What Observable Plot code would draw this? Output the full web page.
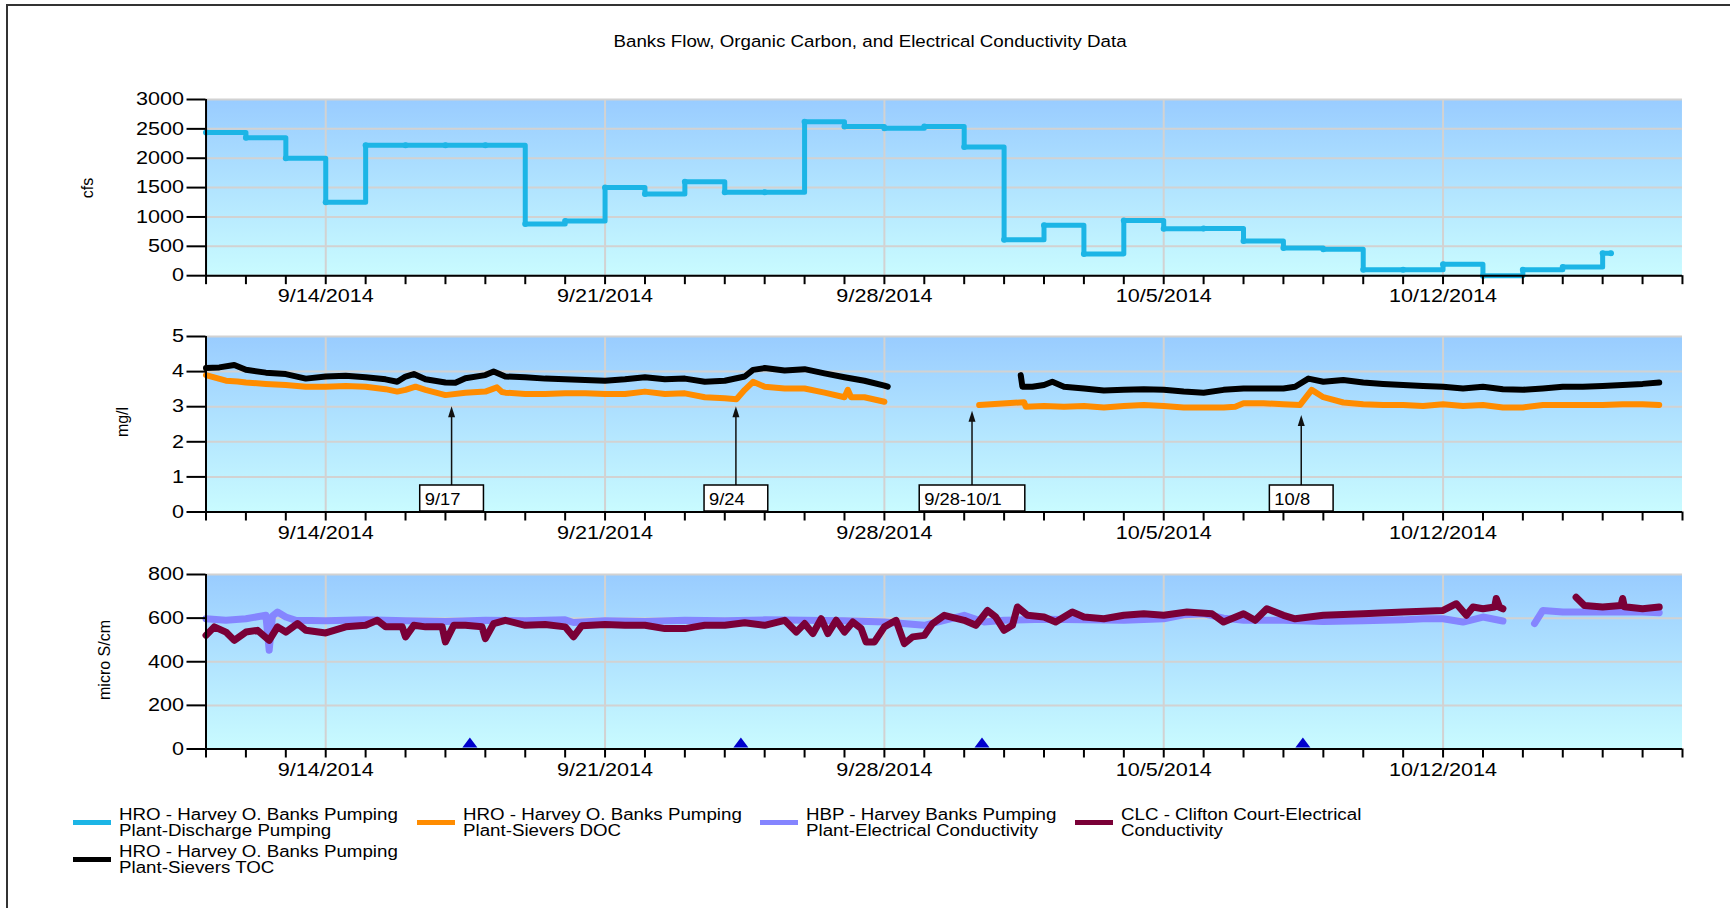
<!DOCTYPE html>
<html><head><meta charset="utf-8">
<script src="https://cdn.jsdelivr.net/npm/d3@7"></script>
<script src="https://cdn.jsdelivr.net/npm/@observablehq/plot@0.6"></script>
<style>
body{margin:0;background:#fff;font-family:"Liberation Sans",Arial,sans-serif;color:#000;}
#page{position:relative;width:1730px;height:908px;overflow:hidden;background:#fff;}
#frame{position:absolute;left:6px;top:4px;width:1800px;height:1000px;border-left:2px solid #333;border-top:2px solid #333;}
.panel{position:absolute;left:0;}
.title{position:absolute;left:0;width:1740px;top:31px;line-height:20px;text-align:center;font-size:16.3px;}
.title span{display:inline-block;transform:scaleX(1.15);}
.ylab{position:absolute;font-size:16px;white-space:nowrap;transform:translate(-50%,-50%) rotate(-90deg);}
.li{position:absolute;display:flex;align-items:center;}
.sw{width:38px;height:5px;margin-right:8px;flex:none;}
.lt{font-size:16px;line-height:16px;white-space:nowrap;transform:scaleX(1.17);transform-origin:left center;}
</style></head>
<body><div id="page"><div id="frame"></div></div>
<script>
// ---------- data ----------
const xStart = "09-11T00", xEnd = "10-18T00";
const weekLabelDates = ["09-14T00","09-21T00","09-28T00","10-05T00","10-12T00"];
const weekLabels = ["9/14/2014","9/21/2014","9/28/2014","10/5/2014","10/12/2014"];

const flowTimes = ["09-11T00","09-12T00","09-13T00","09-14T00","09-15T00","09-16T00","09-17T00","09-18T00","09-19T00","09-20T00","09-21T00","09-22T00","09-23T00","09-24T00","09-25T00","09-26T00","09-27T00","09-28T00","09-29T00","09-30T00","10-01T00","10-02T00","10-03T00","10-04T00","10-05T00","10-06T00","10-07T00","10-08T00","10-09T00","10-10T00","10-11T00","10-12T00","10-13T00","10-14T00","10-15T00","10-16T00","10-16T05"];
const flowValues = [2440,2350,2000,1250,2220,2220,2220,2220,880,930,1500,1390,1600,1420,1420,2620,2540,2510,2540,2190,610,860,370,940,800,805,590,470,450,100,100,195,0,100,150,380,380];

const tocTimes = ["09-11T00","09-11T08","09-11T17","09-12T00","09-12T12","09-13T00","09-13T12","09-14T00","09-14T12","09-15T00","09-15T12","09-15T19","09-16T00","09-16T05","09-16T12","09-17T00","09-17T06","09-17T12","09-18T00","09-18T05","09-18T12","09-19T00","09-19T12","09-20T00","09-20T12","09-21T00","09-21T12","09-22T00","09-22T12","09-23T00","09-23T12","09-24T00","09-24T12","09-24T17","09-25T00","09-25T12","09-26T00","09-26T12","09-27T00","09-27T12","09-28T00","09-28T02","09-29T12","10-01T10","10-01T11","10-01T17","10-02T00","10-02T05","10-02T12","10-03T00","10-03T12","10-04T00","10-04T12","10-05T00","10-05T12","10-06T00","10-06T12","10-07T00","10-07T12","10-08T00","10-08T07","10-08T15","10-09T00","10-09T12","10-10T00","10-10T12","10-11T00","10-11T12","10-12T00","10-12T12","10-13T00","10-13T12","10-14T00","10-14T12","10-15T00","10-15T12","10-16T00","10-16T12","10-17T00","10-17T10"];
const tocValues = [4.10,4.12,4.19,4.05,3.97,3.93,3.80,3.86,3.88,3.84,3.78,3.71,3.86,3.93,3.78,3.69,3.68,3.81,3.90,4.00,3.86,3.84,3.80,3.78,3.76,3.74,3.78,3.84,3.78,3.80,3.71,3.74,3.86,4.05,4.10,4.03,4.07,3.95,3.84,3.74,3.60,3.57,null,3.90,3.57,3.57,3.62,3.71,3.57,3.52,3.46,3.48,3.50,3.48,3.43,3.40,3.48,3.52,3.52,3.52,3.57,3.80,3.71,3.76,3.69,3.65,3.62,3.59,3.57,3.52,3.57,3.50,3.48,3.52,3.57,3.57,3.59,3.62,3.65,3.69];

const docTimes = ["09-11T00","09-11T12","09-11T19","09-12T00","09-12T12","09-13T00","09-13T12","09-14T00","09-14T12","09-15T00","09-15T12","09-15T19","09-16T00","09-16T06","09-16T12","09-17T00","09-17T12","09-18T00","09-18T07","09-18T10","09-18T12","09-19T00","09-19T12","09-20T00","09-20T12","09-21T00","09-21T12","09-22T00","09-22T12","09-23T00","09-23T12","09-24T00","09-24T07","09-24T12","09-24T17","09-25T00","09-25T12","09-26T00","09-26T12","09-27T00","09-27T02","09-27T04","09-27T12","09-28T00","09-29T00","09-30T09","10-01T12","10-01T13","10-02T00","10-02T12","10-03T00","10-03T12","10-04T00","10-04T12","10-05T00","10-05T12","10-06T00","10-06T12","10-06T19","10-07T00","10-07T12","10-08T00","10-08T10","10-08T17","10-09T00","10-09T12","10-10T00","10-10T12","10-11T00","10-11T12","10-12T00","10-12T12","10-13T00","10-13T12","10-14T00","10-14T12","10-15T00","10-15T12","10-16T00","10-16T12","10-17T00","10-17T10"];
const docValues = [3.90,3.74,3.72,3.69,3.65,3.62,3.57,3.57,3.59,3.57,3.50,3.43,3.48,3.57,3.48,3.33,3.40,3.43,3.55,3.42,3.40,3.36,3.36,3.38,3.38,3.36,3.36,3.43,3.36,3.38,3.27,3.24,3.21,3.48,3.71,3.57,3.52,3.52,3.40,3.27,3.48,3.27,3.27,3.14,null,3.05,3.13,3.00,3.02,3.00,3.02,2.98,3.02,3.05,3.02,2.98,2.98,2.98,3.00,3.10,3.10,3.07,3.05,3.48,3.27,3.12,3.07,3.05,3.05,3.02,3.07,3.02,3.05,2.98,2.98,3.05,3.05,3.05,3.05,3.07,3.07,3.05];

const hbpTimes = ["09-11T00","09-11T12","09-12T00","09-12T12","09-12T14","09-12T16","09-12T19","09-13T00","09-13T06","09-14T00","09-15T00","09-16T00","09-17T00","09-18T00","09-19T00","09-20T00","09-20T05","09-21T00","09-22T00","09-23T00","09-24T00","09-25T00","09-26T00","09-27T00","09-28T00","09-29T00","09-30T00","09-30T12","10-01T00","10-02T00","10-03T00","10-04T00","10-05T00","10-05T12","10-06T00","10-06T12","10-07T00","10-08T00","10-09T00","10-10T00","10-11T00","10-11T12","10-12T00","10-12T12","10-13T00","10-13T12","10-14T00","10-14T07","10-14T12","10-15T00","10-16T00","10-17T00","10-17T10"];
const hbpValues = [597,590,597,613,453,610,628,605,590,588,592,588,585,590,588,592,580,588,585,590,588,592,590,588,582,567,613,582,590,595,592,590,597,615,620,600,590,590,585,588,592,597,597,582,605,587,null,575,635,628,628,628,625];

const clcTimes = ["09-11T00","09-11T05","09-11T12","09-11T17","09-12T00","09-12T07","09-12T14","09-12T19","09-13T00","09-13T07","09-13T12","09-14T00","09-14T12","09-15T00","09-15T07","09-15T12","09-15T22","09-16T00","09-16T05","09-16T12","09-16T22","09-17T00","09-17T05","09-17T12","09-17T22","09-18T00","09-18T05","09-18T12","09-19T00","09-19T12","09-20T00","09-20T05","09-20T10","09-21T00","09-21T12","09-22T00","09-22T12","09-23T00","09-23T12","09-24T00","09-24T12","09-25T00","09-25T12","09-25T19","09-26T00","09-26T05","09-26T10","09-26T14","09-26T19","09-27T00","09-27T05","09-27T10","09-27T13","09-27T18","09-28T00","09-28T07","09-28T12","09-28T17","09-29T00","09-29T05","09-29T12","09-30T00","09-30T07","09-30T14","09-30T19","10-01T00","10-01T05","10-01T08","10-01T14","10-02T00","10-02T07","10-02T12","10-02T17","10-03T00","10-03T12","10-04T00","10-04T12","10-05T00","10-05T14","10-06T05","10-06T12","10-07T00","10-07T07","10-07T14","10-08T00","10-08T07","10-09T00","10-10T00","10-11T00","10-12T00","10-12T08","10-12T14","10-12T18","10-13T00","10-13T07","10-13T08","10-13T10","10-13T12","10-14T12","10-15T08","10-15T13","10-16T00","10-16T11","10-16T12","10-16T13","10-17T00","10-17T10"];
const clcValues = [521,560,536,498,536,544,498,560,536,575,544,532,560,567,590,560,560,514,567,560,560,491,567,567,560,506,575,590,567,571,560,514,565,571,567,567,552,552,567,567,579,567,590,536,575,529,597,529,590,536,582,552,491,491,560,590,483,514,521,575,613,590,567,635,605,544,567,651,613,605,582,605,628,605,597,613,620,613,628,620,582,620,590,643,613,597,613,620,628,635,666,613,651,643,651,690,650,643,null,696,658,651,658,690,652,643,651];

const annDates = ["09-17T04","09-24T07","09-30T05","10-08T11"];
const annLabels = ["9/17","9/24","9/28-10/1","10/8"];
const annTips = [3.0, 3.0, 2.87, 2.75];
const markerDates = ["09-17T15","09-24T10","09-30T11","10-08T12"];

const flowTicks = [0,500,1000,1500,2000,2500,3000];
const carbonTicks = [0,1,2,3,4,5];
const ecTicks = [0,200,400,600,800];

const legendItems = [
  ["HRO - Harvey O. Banks Pumping","Plant-Discharge Pumping","#1cb5e6"],
  ["HRO - Harvey O. Banks Pumping","Plant-Sievers DOC","#ff8c00"],
  ["HBP - Harvey Banks Pumping","Plant-Electrical Conductivity","#8585ff"],
  ["CLC - Clifton Court-Electrical","Conductivity","#7a0037"],
  ["HRO - Harvey O. Banks Pumping","Plant-Sievers TOC","#000000"]
];

// ---------- helpers ----------
const T = s => new Date(`2014-${s}:00Z`);
const series = (times, values) => times.map((t, i) => ({t: T(t), v: values[i] == null ? NaN : values[i]}));
const x0 = T(xStart), x1 = T(xEnd);
const dayTicks = d3.utcDay.range(x0, d3.utcDay.offset(x1, 1));
const weekDates = weekLabelDates.map(T);
const labelMap = new Map(weekDates.map((d, i) => [+d, weekLabels[i]]));
const TS = 1.2; // horizontal stretch of tick text

function bg(id) {
  return (index, scales, values, dims) => {
    const g = d3.create("svg:g");
    const grad = g.append("defs").append("linearGradient").attr("id", id)
      .attr("x1", 0).attr("y1", 0).attr("x2", 0).attr("y2", 1);
    grad.append("stop").attr("offset", "0%").attr("stop-color", "#99ccff");
    grad.append("stop").attr("offset", "100%").attr("stop-color", "#c9fbff");
    g.append("rect").attr("x", dims.marginLeft).attr("y", dims.marginTop)
      .attr("width", dims.width - dims.marginLeft - dims.marginRight)
      .attr("height", dims.height - dims.marginTop - dims.marginBottom)
      .attr("fill", `url(#${id})`);
    return g.node();
  };
}

function stretchText(svg, s) {
  svg.querySelectorAll('g[aria-label*="tick label"] text').forEach(t => {
    const tr = t.getAttribute("transform") || "";
    t.setAttribute("transform", `${tr} scale(${s},1)`);
  });
}

function panel(top, plotH, yDomain, yTicks, marks, id) {
  const mt = 10, mb = 45;
  const svg = Plot.plot({
    width: 1730, height: plotH + mt + mb,
    marginLeft: 205.5, marginRight: 48, marginTop: mt, marginBottom: mb,
    style: {fontFamily: "'Liberation Sans', Arial, sans-serif", fontSize: "18px", color: "#000", background: "transparent", overflow: "visible"},
    x: {type: "utc", domain: [x0, x1]},
    y: {domain: yDomain},
    marks: [
      bg(id),
      Plot.gridX(weekDates, {stroke: "#d2d2d2", strokeOpacity: 1, strokeWidth: 2}),
      Plot.gridY(yTicks, {stroke: "#d2d2d2", strokeOpacity: 1, strokeWidth: 2}),
      ...marks,
      Plot.ruleY([yDomain[0]], {stroke: "#000", strokeWidth: 2}),
      Plot.ruleX([x0], {stroke: "#000", strokeWidth: 2}),
      Plot.axisY(yTicks, {tickSize: 19, tickPadding: 3, strokeWidth: 2, tickFormat: d => String(d), label: null, fontSize: 18}),
      Plot.axisX(dayTicks, {tickSize: 9, tickPadding: 5, strokeWidth: 2, tickFormat: d => labelMap.get(+d) || "", label: null, fontSize: 18})
    ]
  });
  stretchText(svg, TS);
  const div = document.createElement("div");
  div.className = "panel";
  div.style.top = (top - mt) + "px";
  div.appendChild(svg);
  document.getElementById("page").appendChild(div);
}

// annotation boxes + arrows (panel 2)
function annotations(index, scales, values, dims) {
  const g = d3.create("svg:g");
  const ctx = document.createElement("canvas").getContext("2d");
  ctx.font = "17px 'Liberation Sans'";
  const s = 1.08;
  const yBase = scales.y(0);
  annDates.forEach((d, i) => {
    const cx = scales.x(T(d));
    const tw = ctx.measureText(annLabels[i]).width * s;
    const bw = tw + 28, bh = 26;
    const bx = cx - bw / 2, by = yBase - bh - 0.5;
    const ty = scales.y(annTips[i]);
    g.append("line").attr("x1", cx).attr("x2", cx).attr("y1", by).attr("y2", ty + 8)
      .attr("stroke", "#111").attr("stroke-width", 1.5);
    g.append("path").attr("d", `M${cx},${ty} L${cx - 3.5},${ty + 11} L${cx + 3.5},${ty + 11} Z`).attr("fill", "#111");
    g.append("rect").attr("x", bx).attr("y", by).attr("width", bw).attr("height", bh)
      .attr("fill", "#fff").attr("stroke", "#000").attr("stroke-width", 1.5);
    g.append("text").attr("transform", `translate(${bx + 5},${by + 19.5}) scale(${s},1)`)
      .attr("text-anchor", "start").attr("font-size", 17).attr("fill", "#000").text(annLabels[i]);
  });
  return g.node();
}

function triangles(index, scales, values, dims) {
  const g = d3.create("svg:g");
  const yb = scales.y(0) - 1;
  markerDates.forEach(d => {
    const cx = scales.x(T(d));
    g.append("path").attr("d", `M${cx - 7.5},${yb} L${cx},${yb - 10} L${cx + 7.5},${yb} Z`).attr("fill", "#0000cc");
  });
  return g.node();
}

// ---------- panels ----------
const flow = series(flowTimes, flowValues);
panel(99.3, 176.2, [0, 3000], flowTicks, [
  Plot.line(flow, {x: "t", y: "v", curve: "step-after", stroke: "#1cb5e6", strokeWidth: 5, strokeLinejoin: "round"}),
  Plot.dot(flow, {x: "t", y: "v", r: 3, fill: "#1cb5e6"})
], "g1");

const toc = series(tocTimes, tocValues), doc = series(docTimes, docValues);
panel(336, 175.5, [0, 5], carbonTicks, [
  Plot.line(doc, {x: "t", y: "v", stroke: "#ff8c00", strokeWidth: 6, strokeLinejoin: "round"}),
  Plot.line(toc, {x: "t", y: "v", stroke: "#000", strokeWidth: 6, strokeLinejoin: "round"}),
  annotations
], "g2");

const hbp = series(hbpTimes, hbpValues), clc = series(clcTimes, clcValues);
panel(574, 174.5, [0, 800], ecTicks, [
  Plot.line(hbp, {x: "t", y: "v", stroke: "#8585ff", strokeWidth: 7, strokeLinejoin: "round"}),
  Plot.line(clc, {x: "t", y: "v", stroke: "#7a0037", strokeWidth: 7, strokeLinejoin: "round"}),
  triangles
], "g3");

// ---------- text: title, axis titles, legend ----------
const page = document.getElementById("page");
const title = document.createElement("div");
title.className = "title";
title.innerHTML = "<span>Banks Flow, Organic Carbon, and Electrical Conductivity Data</span>";
page.appendChild(title);

[["cfs", 88, 187.5], ["mg/l", 123, 421.5], ["micro S/cm", 105, 660]].forEach(([t, x, y]) => {
  const d = document.createElement("div");
  d.className = "ylab"; d.textContent = t;
  d.style.left = x + "px"; d.style.top = y + "px";
  page.appendChild(d);
});

const legendPos = [[73, 806.5], [417, 806.5], [760, 806.5], [1075, 806.5], [73, 843.5]];
legendItems.forEach(([a, b, c], i) => {
  const d = document.createElement("div");
  d.className = "li";
  d.style.left = legendPos[i][0] + "px"; d.style.top = legendPos[i][1] + "px";
  d.innerHTML = `<div class="sw" style="background:${c}"></div><div class="lt">${a}<br>${b}</div>`;
  page.appendChild(d);
});
</script>
</body></html>
